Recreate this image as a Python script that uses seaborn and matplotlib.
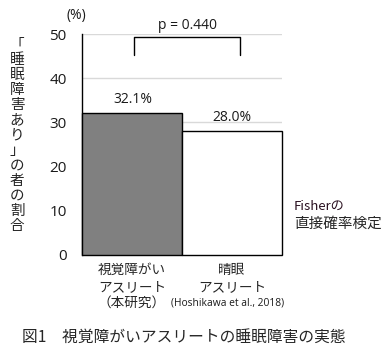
import matplotlib
matplotlib.use("Agg")
import matplotlib.pyplot as plt
import seaborn as sns
import pandas as pd

categories = ["視覚障がい\nアスリート\n（本研究）", "晴眼\nアスリート"]
values = [32.1, 28.0]
value_labels = ["32.1%", "28.0%"]
bar_colors = ["#808080", "#ffffff"]
yticks = [0, 10, 20, 30, 40, 50]
p_text = "p = 0.440"
ylabel_text = "「睡眠障害あり」の者の割合"
reference_text = "(Hoshikawa et al., 2018)"
caption = "図1　視覚障がいアスリートの睡眠障害の実態"

sns.set_theme(style="white")
plt.rcParams['font.family'] = ['Noto Sans CJK JP', 'DejaVu Sans']

fig = plt.figure(figsize=(3.89, 3.59), dpi=100)
ax = fig.add_axes([82/389, 104/359, 200/389, 221/359])

df = pd.DataFrame({"cat": categories, "val": values})
sns.barplot(data=df, x="cat", y="val", hue="cat", palette=bar_colors, legend=False,
            width=1.0, edgecolor="black", linewidth=1.0, ax=ax, zorder=3)
for p in ax.patches:
    p.set_clip_on(False)

ax.set_ylim(0, 50)
ax.set_xlim(-0.5, 1.5)
ax.set_yticks(yticks)
ax.set_yticklabels([str(t) for t in yticks], fontsize=11, color="#1a1a1a", family="Open Sans")
ax.yaxis.grid(True, color="#d9d9d9", linewidth=1.0, zorder=0)
ax.set_axisbelow(True)
for s in ["top", "right", "bottom"]:
    ax.spines[s].set_visible(False)
ax.spines["left"].set_color("black")
ax.spines["left"].set_linewidth(1.0)
ax.tick_params(axis="y", length=0, pad=11)
ax.tick_params(axis="x", length=0, pad=6)
ax.set_xlabel("")
ax.set_ylabel("")
ax.set_xticks([0, 1])
ax.set_xticklabels(categories, fontsize=9.8, linespacing=1.22)

# value labels
label_x = [0.01, 1.0]
for x, v, lab in zip(label_x, values, value_labels):
    ax.text(x, v + 3.1, lab, ha="center", va="center",
            fontsize=10, color="#1a1a1a", family="Open Sans")

# reference below second category
ax.text(0.96, -10.9, reference_text, ha="center", va="center",
        fontsize=7.4, color="#1a1a1a", family="Open Sans")

# significance bracket
ax.plot([0.02, 0.02, 1.08, 1.08], [45.2, 49.3, 49.3, 45.2], color="black",
        linewidth=1.0, clip_on=False, zorder=5)
ax.text(0.55, 52.0, p_text, ha="center", va="center", fontsize=10,
        color="#1a1a1a", family="Open Sans")

# (%)
fig.text(76/389, 1 - 15/359, "(%)", ha="center", va="center", fontsize=10,
         color="#1a1a1a", family="Open Sans")

# vertical y label, characters stacked upright
chars = list(ylabel_text)
y_start, step = 45, 15.1
for k, ch in enumerate(chars):
    fig.text(17/389, 1 - (y_start + k * step)/359, ch, ha="center", va="center",
             fontsize=10.5)

# Fisher note
fig.text(294/389, 1 - 206/359, "Fisherの", ha="left", va="center", fontsize=9.5,
         color="#2a1020")
fig.text(294/389, 1 - 224/359, "直接確率検定", ha="left", va="center", fontsize=10.5)

# caption
fig.text(22/389, 1 - 337/359, caption, ha="left", va="center", fontsize=11.3)

fig.savefig("out.png", dpi=100)
